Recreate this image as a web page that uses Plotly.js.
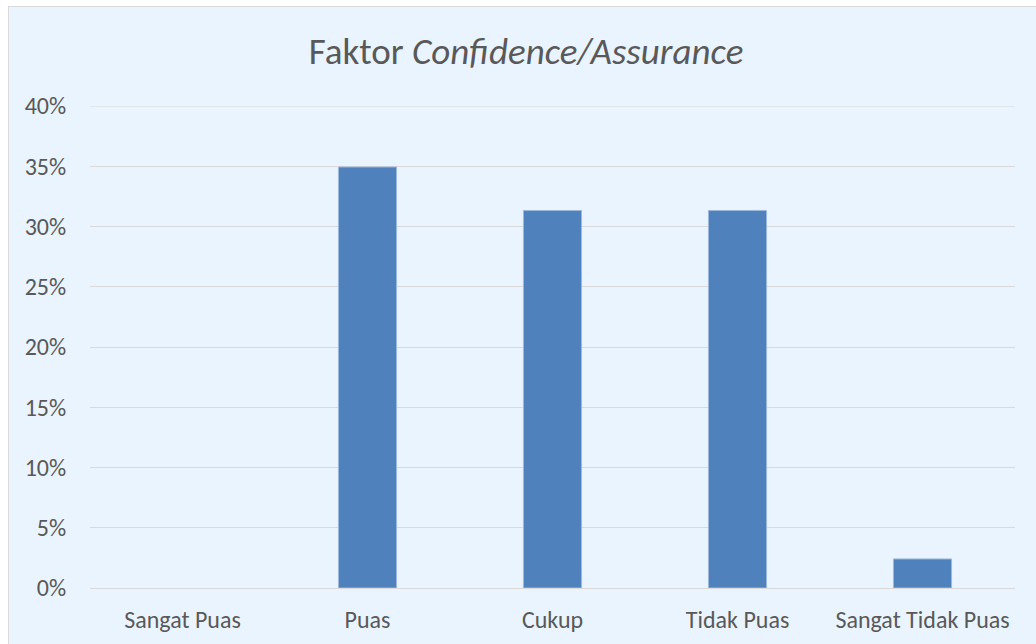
<!DOCTYPE html>
<html>
<head>
<meta charset="utf-8">
<script src="https://cdn.plot.ly/plotly-3.0.1.min.js"></script>
<style>
html,body{margin:0;padding:0;background:#ffffff;width:1036px;height:644px;overflow:hidden;}
#chart{position:absolute;left:8px;top:6px;width:1027px;height:637px;border-left:1px solid #d9d9d9;border-top:1px solid #d9d9d9;}
</style>
</head>
<body>
<div id="chart"></div>
<script>
const categories = ["Sangat Puas", "Puas", "Cukup", "Tidak Puas", "Sangat Tidak Puas"];
const values = [0, 0.3494, 0.3133, 0.3133, 0.0241];
const yTickVals = [0, 0.05, 0.10, 0.15, 0.20, 0.25, 0.30, 0.35, 0.40];
const yTickText = ["0%", "5%", "10%", "15%", "20%", "25%", "30%", "35%", "40%"];
const yMax = 0.40;

const fontFam = "Carlito, 'Open Sans', 'Noto Sans', sans-serif";
const data = [{
  type: 'bar',
  x: categories,
  y: values,
  marker: {color: '#4F81BD', line: {color: '#9DB9DC', width: values.map(v => v > 0 ? 1 : 0)}},
  hoverinfo: 'none'
}];
const layout = {
  width: 1027, height: 637,
  margin: {l: 81, r: 21, t: 99, b: 56},
  paper_bgcolor: '#EAF4FE',
  plot_bgcolor: '#EAF4FE',
  bargap: 0.686,
  showlegend: false,
  title: {
    text: "Faktor <i>Confidence/Assurance</i>",
    font: {family: fontFam, size: 37, color: '#595959'},
    x: 0.5035, xanchor: 'center', y: 0.931, yanchor: 'middle'
  },
  shapes: [{
    type: 'line', xref: 'paper', x0: 0, x1: 1, yref: 'y', y0: yMax, y1: yMax,
    line: {color: '#D9D9D9', width: 1}, layer: 'below'
  }],
  xaxis: {
    showgrid: false, zeroline: false, showline: false,
    ticks: 'outside', ticklen: 10, tickcolor: 'rgba(0,0,0,0)',
    tickfont: {family: fontFam, size: 24, color: '#595959'},
    fixedrange: true
  },
  yaxis: {
    range: [0, yMax],
    tickvals: yTickVals, ticktext: yTickText,
    showgrid: true, gridcolor: '#D9D9D9', gridwidth: 1,
    zeroline: true, zerolinecolor: '#D9D9D9', zerolinewidth: 1,
    showline: false,
    ticks: 'outside', ticklen: 18, tickcolor: 'rgba(0,0,0,0)',
    tickfont: {family: fontFam, size: 24, color: '#595959'},
    fixedrange: true
  }
};
Plotly.newPlot('chart', data, layout, {displayModeBar: false, staticPlot: true});
</script>
</body>
</html>
